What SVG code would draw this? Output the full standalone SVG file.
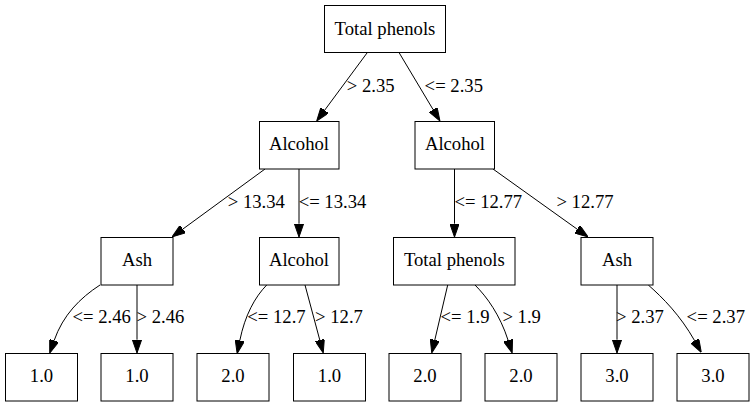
<svg xmlns="http://www.w3.org/2000/svg" width="755" height="407" viewBox="0 0 755 407">
<style>
.n rect{fill:#fff;stroke:#000;stroke-width:1}
.n text{font-family:"Liberation Serif","Times New Roman",serif;font-size:18.67px;text-anchor:middle;fill:#000}
.e path{fill:none;stroke:#000;stroke-width:1;marker-end:url(#ah)}
.e text{font-family:"Liberation Serif","Times New Roman",serif;font-size:18.67px;text-anchor:middle;fill:#000}
</style>
<defs>
<marker id="ah" viewBox="0 0 13.33 9.33" refX="0" refY="4.67" markerWidth="13.33" markerHeight="9.33" markerUnits="userSpaceOnUse" orient="auto">
<path d="M0,0 L13.33,4.67 L0,9.33 Z" fill="#000" stroke="#000" stroke-width="1"/>
</marker>
</defs>
<rect width="755" height="407" fill="#fff"/>
<g id="edges" class="e">
<path d="M367,53 L324.6,110.3"/><text x="370.7" y="92">&gt; 2.35</text>
<path d="M399.3,53 L433.1,109.6"/><text x="453.8" y="92">&lt;= 2.35</text>
<path d="M265,169 L182.8,229.1"/><text x="256.3" y="208">&gt; 13.34</text>
<path d="M299,169 L299,223.7"/><text x="332.5" y="208">&lt;= 13.34</text>
<path d="M454.5,169 L454.5,223.7"/><text x="488.3" y="208">&lt;= 12.77</text>
<path d="M493,169 L577.2,229.2"/><text x="585" y="208">&gt; 12.77</text>
<path d="M100,285 C80,298 63,315 54.1,340.6"/><text x="101.7" y="323">&lt;= 2.46</text>
<path d="M137,285 L137,339.7"/><text x="160.5" y="323">&gt; 2.46</text>
<path d="M266.7,285 C255,297 245,315 239.8,340.5"/><text x="276.5" y="323">&lt;= 12.7</text>
<path d="M305,285 L319.8,340.1"/><text x="339" y="323">&gt; 12.7</text>
<path d="M447.7,285 L434.8,340"/><text x="465" y="323">&lt;= 1.9</text>
<path d="M475,285 C487,297 500,315 508.1,340.3"/><text x="521.7" y="323">&gt; 1.9</text>
<path d="M617,285 L617,339.7"/><text x="640" y="323">&gt; 2.37</text>
<path d="M648.3,285 C663,298 680,315 694.7,340.8"/><text x="715.8" y="323">&lt;= 2.37</text>
</g>
<g id="n0" class="n"><rect x="324.5" y="5.5" width="121" height="47"/><text x="385" y="34.5">Total phenols</text></g>
<g id="n1" class="n"><rect x="259.5" y="121.5" width="79.5" height="47.5"/><text x="299" y="150">Alcohol</text></g>
<g id="n2" class="n"><rect x="415" y="121.5" width="79.5" height="47.5"/><text x="455" y="150">Alcohol</text></g>
<g id="n3" class="n"><rect x="101" y="237.5" width="72" height="47.5"/><text x="137" y="266">Ash</text></g>
<g id="n4" class="n"><rect x="259.5" y="237.5" width="79.5" height="47.5"/><text x="299" y="266">Alcohol</text></g>
<g id="n5" class="n"><rect x="393.5" y="237.5" width="121.5" height="47.5"/><text x="454.3" y="266">Total phenols</text></g>
<g id="n6" class="n"><rect x="581" y="237.5" width="72" height="47.5"/><text x="617" y="266">Ash</text></g>
<g id="n7" class="n"><rect x="5.5" y="353.5" width="72" height="47.5"/><text x="41.5" y="382">1.0</text></g>
<g id="n8" class="n"><rect x="101" y="353.5" width="72" height="47.5"/><text x="137" y="382">1.0</text></g>
<g id="n9" class="n"><rect x="197" y="353.5" width="72" height="47.5"/><text x="233" y="382">2.0</text></g>
<g id="n10" class="n"><rect x="293.5" y="353.5" width="72" height="47.5"/><text x="329.5" y="382">1.0</text></g>
<g id="n11" class="n"><rect x="389" y="353.5" width="72" height="47.5"/><text x="425" y="382">2.0</text></g>
<g id="n12" class="n"><rect x="485" y="353.5" width="72" height="47.5"/><text x="521" y="382">2.0</text></g>
<g id="n13" class="n"><rect x="581" y="353.5" width="72" height="47.5"/><text x="617" y="382">3.0</text></g>
<g id="n14" class="n"><rect x="677" y="353.5" width="72" height="47.5"/><text x="713" y="382">3.0</text></g>
</svg>
